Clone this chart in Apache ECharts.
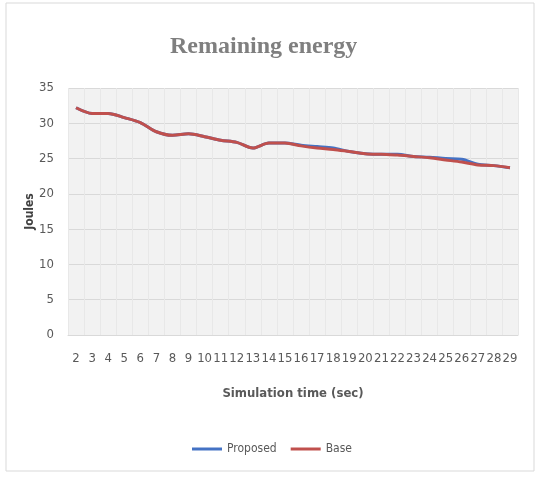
<!DOCTYPE html>
<html>
<head>
    <meta charset="UTF-8">
    <title>Remaining energy</title>
    <style>
        html, body {
            margin: 0;
            padding: 0;
            background: #ffffff;
        }

        #chart {
            width: 544px;
            height: 484px;
        }
    </style>
    <script src="https://cdn.jsdelivr.net/npm/echarts@6/dist/echarts.min.js"></script>
</head>
<body>
<div id="chart"></div>
<script>
    // simulation time, seconds
    var times = ['2', '3', '4', '5', '6', '7', '8', '9', '10', '11', '12', '13', '14', '15',
        '16', '17', '18', '19', '20', '21', '22', '23', '24', '25', '26', '27', '28', '29'];

    // remaining energy (Joules)
    var proposed = [32.2, 31.4, 31.4, 30.8, 30.1, 28.8, 28.3, 28.5, 28.1, 27.6, 27.3, 26.5, 27.2, 27.2,
        26.9, 26.7, 26.5, 26.0, 25.7, 25.6, 25.6, 25.3, 25.2, 25.0, 24.9, 24.2, 24.0, 23.7];
    var base = [32.2, 31.4, 31.4, 30.8, 30.1, 28.8, 28.3, 28.5, 28.1, 27.6, 27.3, 26.5, 27.2, 27.2,
        26.8, 26.5, 26.3, 26.0, 25.7, 25.6, 25.5, 25.3, 25.1, 24.8, 24.5, 24.1, 24.0, 23.7];

    var labelFont = "'Liberation Sans Narrow', 'DejaVu Sans Condensed', sans-serif";

    var chart = echarts.init(document.getElementById('chart'), null, {renderer: 'canvas'});
    chart.setOption({
        animation: false,
        backgroundColor: '#ffffff',
        graphic: [{
            type: 'rect',
            shape: {x: 6, y: 3, width: 528, height: 468},
            style: {fill: 'none', stroke: '#d9d9d9', lineWidth: 1},
            silent: true
        }],
        title: {
            text: 'Remaining energy',
            left: 165,
            top: 30,
            textStyle: {
                fontFamily: "'Liberation Serif', 'DejaVu Serif', serif",
                fontSize: 24,
                fontWeight: 'bold',
                color: '#7f7f7f'
            }
        },
        legend: {
            bottom: 24,
            left: 'center',
            itemWidth: 30,
            itemHeight: 3,
            itemGap: 14,
            icon: 'rect',
            textStyle: {fontFamily: labelFont, fontSize: 12, color: '#595959'},
            data: ['Proposed', 'Base']
        },
        grid: {
            left: 68,
            right: 26,
            top: 88,
            bottom: 149,
            show: true,
            backgroundColor: '#f2f2f2',
            borderWidth: 0
        },
        xAxis: {
            type: 'category',
            data: times,
            boundaryGap: true,
            name: 'Simulation time (sec)',
            nameLocation: 'middle',
            nameGap: 52,
            nameTextStyle: {fontFamily: labelFont, fontSize: 13, fontWeight: 'bold', color: '#595959'},
            axisLine: {lineStyle: {color: '#d9d9d9'}},
            axisTick: {show: false},
            axisLabel: {fontFamily: labelFont, fontSize: 13, color: '#595959', interval: 0, margin: 17},
            splitLine: {show: true, lineStyle: {color: '#e8e8e8', width: 1}}
        },
        yAxis: {
            type: 'value',
            min: 0,
            max: 35,
            interval: 5,
            name: 'Joules',
            nameLocation: 'middle',
            nameGap: 32,
            nameMoveOverlap: false,
            nameTextStyle: {fontFamily: labelFont, fontSize: 12, fontWeight: 'bold', color: '#404040'},
            axisLine: {show: false},
            axisTick: {show: false},
            axisLabel: {fontFamily: labelFont, fontSize: 13, color: '#595959', margin: 14},
            splitLine: {lineStyle: {color: '#d9d9d9'}}
        },
        series: [
            {
                name: 'Proposed',
                type: 'line',
                data: proposed,
                smooth: 0.3,
                showSymbol: false,
                lineStyle: {width: 3, color: '#4472c4'},
                itemStyle: {color: '#4472c4'}
            },
            {
                name: 'Base',
                type: 'line',
                data: base,
                smooth: 0.3,
                showSymbol: false,
                lineStyle: {width: 3, color: '#c0504d'},
                itemStyle: {color: '#c0504d'}
            }
        ]
    });
</script>
</body>
</html>
